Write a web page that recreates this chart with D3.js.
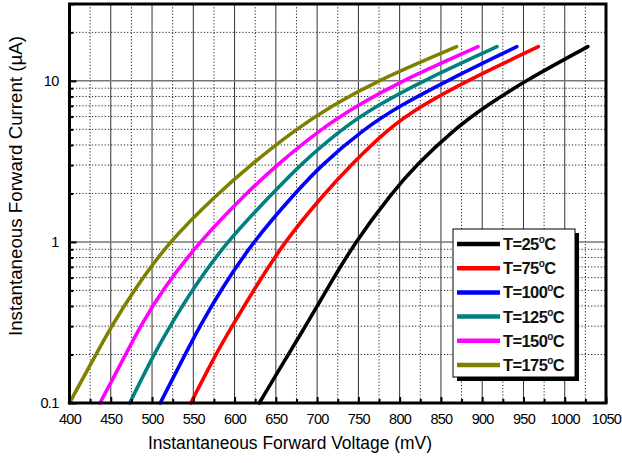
<!DOCTYPE html>
<html>
<head>
<meta charset="utf-8">
<script src="https://cdn.jsdelivr.net/npm/d3@7"></script>
<style>
  html, body { margin: 0; padding: 0; background: #fff; }
  svg { display: block; font-family: "Liberation Sans", Arial, sans-serif; }
</style>
</head>
<body>
<svg id="chart" width="622" height="463"></svg>
<script>
// ---- data ----
const currents = [0.1, 0.2, 0.3, 0.5, 1, 2, 3, 5, 7, 10, 16.3]; // µA
const temps = ["T=25", "T=75", "T=100", "T=125", "T=150", "T=175"];
const colors = ["#000000", "#ff0000", "#0000ff", "#008080", "#ff00ff", "#808000"];
const v25  = [630, 665, 686, 711, 746, 790, 820, 866, 905, 952, 1028];
const v75  = [547, 577, 597, 623, 660, 709, 741, 785, 826, 881, 968];
const v100 = [510, 540, 558, 583, 622, 673, 705, 756, 800, 857, 942];
const v125 = [473, 502, 522, 548, 590, 646, 679, 729, 772, 828, 918];
const v150 = [437, 468, 486, 512, 557, 614, 651, 704, 748, 802, 895];
const v175 = [400, 432, 451, 478, 520, 580, 619, 674, 718, 772, 869];
const seriesV = [v25, v75, v100, v125, v150, v175];
const xTicks = [400, 450, 500, 550, 600, 650, 700, 750, 800, 850, 900, 950, 1000, 1050];
const yTicks = [0.1, 1, 10];
const yTickLabels = ["0.1", "1", "10"];

// ---- layout ----
const svg = d3.select("#chart");
const L = 69.5, R = 606, T = 4, B = 403;
const x = d3.scaleLinear().domain([400, 1050]).range([L, R]);
const y = d3.scaleLog().domain([0.1, 30]).range([B, T]);

const g = svg.append("g");

// minor values
const xMinor = d3.range(425, 1050, 50);
const yMinor = [];
[0.1, 1, 10].forEach(d => { for (let k = 2; k <= 9; k++) { const v = d * k; if (v <= 30) yMinor.push(+v.toFixed(3)); } });

// grid lines
g.selectAll(".gxm").data(xMinor).join("line")
  .attr("x1", d => x(d)).attr("x2", d => x(d)).attr("y1", T).attr("y2", B)
  .attr("stroke", "#222").attr("stroke-width", 1).attr("stroke-dasharray", "1.2,2");
g.selectAll(".gym").data(yMinor).join("line")
  .attr("x1", L).attr("x2", R).attr("y1", d => y(d)).attr("y2", d => y(d))
  .attr("stroke", "#222").attr("stroke-width", 1).attr("stroke-dasharray", "1.2,2");
g.selectAll(".gxM").data(xTicks.slice(1, -1)).join("line")
  .attr("x1", d => x(d)).attr("x2", d => x(d)).attr("y1", T).attr("y2", B)
  .attr("stroke", "#333").attr("stroke-width", 1);
g.selectAll(".gyM").data([1, 10]).join("line")
  .attr("x1", L).attr("x2", R).attr("y1", d => y(d)).attr("y2", d => y(d))
  .attr("stroke", "#777").attr("stroke-width", 1.5);

// curves
const line = d3.line().x(d => x(d[0])).y(d => y(d[1])).curve(d3.curveBasis);
seriesV.forEach((vs, i) => {
  const pts = vs.map((v, j) => [v, currents[j]]);
  g.append("path").datum(pts).attr("d", line)
    .attr("fill", "none").attr("stroke", colors[i]).attr("stroke-width", 3.6)
    .attr("stroke-linecap", "round").attr("stroke-linejoin", "round");
});

// axes (ticks inward)
const xAxis = d3.axisBottom(x).tickValues(xTicks).tickSize(-6).tickPadding(11).tickFormat(d3.format("d"));
svg.append("g").attr("transform", `translate(0,${B})`).call(xAxis);
const xAxisMinor = d3.axisBottom(x).tickValues(xMinor).tickSize(-4).tickFormat("");
svg.append("g").attr("transform", `translate(0,${B})`).call(xAxisMinor);
const yAxis = d3.axisLeft(y).tickValues(yTicks).tickSize(-7).tickPadding(11).tickFormat((d, i) => yTickLabels[i]);
svg.append("g").attr("transform", `translate(${L},0)`).call(yAxis);
const yAxisMinor = d3.axisLeft(y).tickValues(yMinor).tickSize(-4).tickFormat("");
svg.append("g").attr("transform", `translate(${L},0)`).call(yAxisMinor);

svg.selectAll(".domain").remove();
svg.selectAll(".tick line").attr("stroke", "#000").attr("stroke-width", 2);
svg.selectAll(".tick text").attr("font-size", 14.5).attr("fill", "#000")
  .attr("font-family", "'Liberation Sans', Arial, sans-serif").attr("letter-spacing", "-0.7");

// frame
svg.append("rect").attr("x", L).attr("y", T).attr("width", R - L).attr("height", B - T)
  .attr("fill", "none").attr("stroke", "#000").attr("stroke-width", 3);

// axis titles
svg.append("text").attr("x", 290).attr("y", 449).attr("text-anchor", "middle")
  .attr("font-size", 17.5).attr("fill", "#000")
  .attr("textLength", 284).attr("lengthAdjust", "spacingAndGlyphs")
  .text("Instantaneous Forward Voltage (mV)");
svg.append("text").attr("transform", "translate(22,186) rotate(-90)").attr("text-anchor", "middle")
  .attr("font-size", 17.5).attr("fill", "#000")
  .attr("textLength", 300).attr("lengthAdjust", "spacingAndGlyphs")
  .text("Instantaneous Forward Current (µA)");

// legend
const lx = 453, ly = 229, lw = 122, lh = 148;
svg.append("rect").attr("x", lx + 4).attr("y", ly + 4).attr("width", lw).attr("height", lh).attr("fill", "#000");
svg.append("rect").attr("x", lx).attr("y", ly).attr("width", lw).attr("height", lh)
  .attr("fill", "#fff").attr("stroke", "#000").attr("stroke-width", 1);
temps.forEach((t, i) => {
  const yy = ly + 15 + i * 24.2;
  svg.append("line").attr("x1", lx + 4).attr("x2", lx + 47).attr("y1", yy).attr("y2", yy)
    .attr("stroke", colors[i]).attr("stroke-width", 4.5);
  const tx = svg.append("text").attr("x", lx + 50).attr("y", yy + 6)
    .attr("font-size", 16.5).attr("font-weight", "bold").attr("fill", "#111").attr("letter-spacing", "-0.6");
  tx.append("tspan").text(t);
  tx.append("tspan").attr("font-size", 10).attr("dy", -7).text("o");
  tx.append("tspan").attr("dy", 7).text("C");
});
</script>
</body>
</html>
